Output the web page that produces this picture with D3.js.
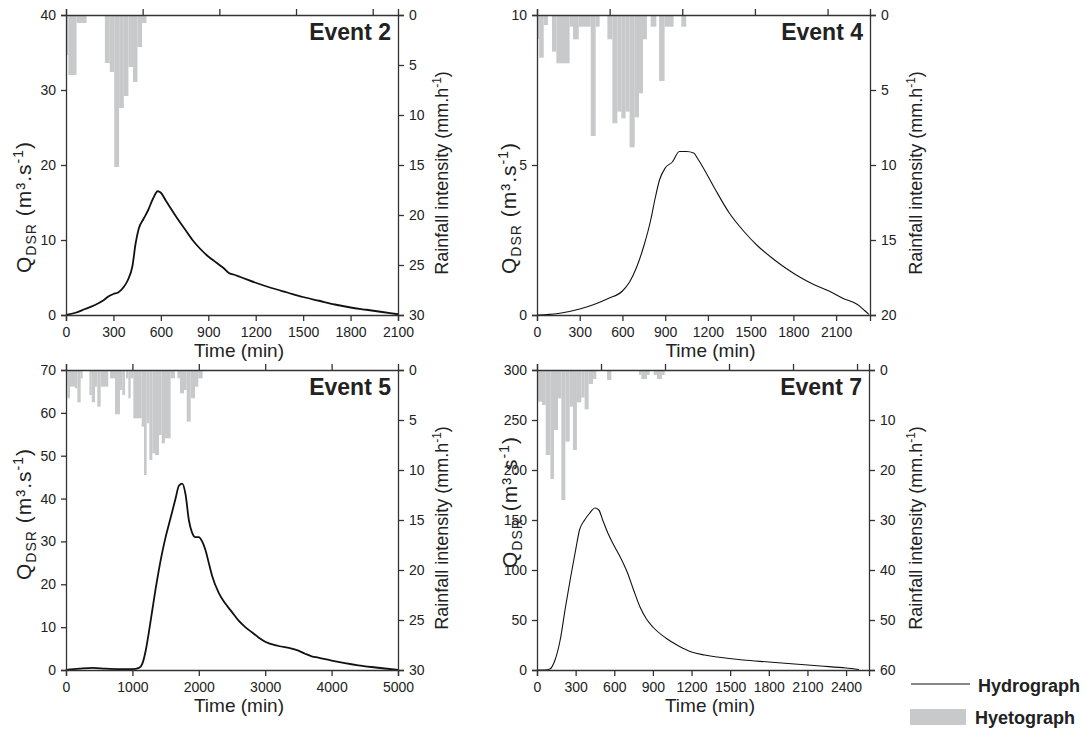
<!DOCTYPE html>
<html>
<head>
<meta charset="utf-8">
<script src="https://cdn.jsdelivr.net/npm/d3@7"></script>
<style>
  body { margin: 0; background: #fff; }
  text { font-family: "Liberation Sans", Arial, sans-serif; fill: #222; }
  .tick text { font-family: "Liberation Sans Narrow", "Arial Narrow", "Liberation Sans", sans-serif; font-size: 14px; fill: #222; }
  .axis path, .axis line { stroke: #333; stroke-width: 1.3px; }
</style>
</head>
<body>
<svg id="chart" width="1087" height="732"></svg>
<script>
// hydrographs: [time (min), Q (m3/s)]
const event2Flow = [[0,0],[60,0.3],[120,0.8],[180,1.3],[240,2.0],[270,2.5],[300,2.8],[330,3.0],[360,3.6],[390,4.6],[420,6.5],[440,9.5],[460,11.5],[490,12.8],[520,14],[550,15.5],[580,16.5],[600,16.3],[630,15.3],[660,14.3],[700,13],[750,11.5],[800,10],[850,8.8],[900,7.8],[950,7],[1000,6.2],[1030,5.6],[1060,5.4],[1100,5.1],[1200,4.3],[1300,3.6],[1400,3.0],[1500,2.4],[1600,1.9],[1700,1.4],[1800,1.0],[1900,0.7],[2000,0.4],[2100,0.1]];
const event4Flow = [[0,0],[150,0.05],[300,0.2],[400,0.35],[500,0.55],[600,0.8],[650,1.1],[700,1.6],[750,2.3],[800,3.2],[830,3.9],[860,4.5],[900,4.9],[950,5.1],[1000,5.45],[1050,5.45],[1100,5.4],[1130,5.2],[1180,4.8],[1250,4.2],[1350,3.4],[1450,2.8],[1550,2.3],[1650,1.9],[1750,1.55],[1850,1.25],[1950,1.0],[2050,0.8],[2150,0.55],[2250,0.35],[2300,0.15],[2330,0.02]];
const event5Flow = [[0,0],[200,0.3],[400,0.5],[600,0.3],[800,0.2],[1000,0.2],[1100,0.5],[1150,1.5],[1200,4.5],[1250,9],[1300,14],[1350,19],[1400,23.5],[1450,27.5],[1500,31],[1550,34],[1600,37],[1650,40],[1700,43],[1750,43.5],[1800,41],[1850,35],[1900,32],[1950,31],[2000,31],[2050,30],[2100,28],[2150,25],[2200,22],[2300,18],[2400,15.5],[2500,13.5],[2600,11.5],[2700,10],[2800,8.8],[2900,7.6],[3000,6.6],[3200,5.6],[3400,5],[3500,4.5],[3600,3.8],[3700,3.2],[3800,2.9],[4000,2.2],[4200,1.6],[4400,1.1],[4600,0.7],[4800,0.35],[5000,0.05]];
const event7Flow = [[0,0],[60,0],[100,1],[140,10],[180,30],[220,62],[260,92],[300,120],[330,140],[370,150],[410,157],[450,162],[480,160],[510,150],[550,137],[600,124],[650,112],[700,98],[750,80],[800,63],[850,51],[900,43],[1000,32],[1100,24],[1200,18],[1300,15],[1400,13],[1600,10],[1800,8],[2000,6],[2200,4],[2400,2],[2500,0.5]];

// hyetographs: [start (min), end (min), intensity (mm/h)]
const event2Rain = [[0,15,4.0],[15,67,6.0],[67,130,0.8],[246,277,4.8],[277,305,5.7],[305,336,15.2],[336,366,9.3],[366,395,8.1],[395,424,5.2],[424,452,6.7],[452,481,3.2],[481,509,0.8]];
const event4Rain = [[0,15,1.6],[15,47,2.85],[47,77,0.67],[105,136,2.44],[136,229,3.22],[229,253,0.78],[253,293,1.62],[293,377,0.78],[377,412,8.07],[412,440,0.78],[494,529,1.62],[529,564,7.22],[564,592,6.44],[592,622,6.89],[622,650,6.44],[650,686,8.82],[686,716,6.82],[716,744,5.22],[744,772,1.62],[798,838,0.78],[857,896,4.4],[896,959,0.78],[1013,1048,0.78]];
const event5Rain = [[0,20,1.5],[20,60,2.83],[60,136,1.67],[136,171,1.83],[171,221,3.23],[221,251,0.83],[352,387,2.5],[387,437,3.23],[437,472,1.67],[472,522,3.67],[522,637,1.67],[663,738,0.83],[738,813,4.43],[813,848,2.0],[848,889,2.5],[904,939,0.83],[939,974,2.83],[974,1014,0.83],[1014,1140,4.83],[1140,1175,5.67],[1175,1215,10.5],[1215,1255,5.33],[1255,1300,9.0],[1300,1340,8.33],[1340,1400,8.5],[1400,1441,6.5],[1441,1491,7.33],[1491,1576,6.83],[1576,1642,0.83],[1677,1717,0.83],[1717,1777,2.33],[1777,1818,2.0],[1818,1878,5.17],[1878,1943,2.83],[1943,1993,1.67],[1993,2058,0.83]];
const event7Rain = [[0,8,9.33],[8,39,6.33],[39,68,7.0],[68,104,17.0],[104,132,21.8],[132,163,12.0],[163,189,5.67],[189,220,26.0],[220,254,14.33],[254,279,7.33],[279,310,16.0],[310,344,6.47],[344,370,5.5],[370,401,7.87],[401,435,2.8],[435,461,1.8],[544,577,2.0],[792,810,1.0],[810,854,1.8],[854,875,1.0],[906,932,1.0],[932,970,1.8],[970,991,1.0]];

// axis ticks
const timeTicks2 = [0,300,600,900,1200,1500,1800,2100];
const timeTicks4 = [0,300,600,900,1200,1500,1800,2100];
const timeTicks5 = [0,1000,2000,3000,4000,5000];
const timeTicks7 = [0,300,600,900,1200,1500,1800,2100,2400];
const qTicks2 = [0,10,20,30,40];
const qTicks4 = [0,5,10];
const qTicks5 = [0,10,20,30,40,50,60,70];
const qTicks7 = [0,50,100,150,200,250,300];
const rainTicks2 = [0,5,10,15,20,25,30];
const rainTicks4 = [0,5,10,15,20];
const rainTicks5 = [0,5,10,15,20,25,30];
const rainTicks7 = [0,10,20,30,40,50,60];

const panels = [
  { title: "Event 2", flow: event2Flow, rain: event2Rain, xMax: 2100, xTicks: timeTicks2, qTicks: qTicks2, rTicks: rainTicks2, topStep: 485,
    left: 66, top: 15, width: 332, lw: 1.8, qLabelY: 207, qLabelX: 31, rLabelX: 448 },
  { title: "Event 4", flow: event4Flow, rain: event4Rain, xMax: 2338, xTicks: timeTicks4, qTicks: qTicks4, rTicks: rainTicks4, topStep: 510,
    left: 537, top: 15, width: 333, lw: 1.1, qLabelY: 208, qLabelX: 516, rLabelX: 922 },
  { title: "Event 5", flow: event5Flow, rain: event5Rain, xMax: 5000, xTicks: timeTicks5, qTicks: qTicks5, rTicks: rainTicks5, topStep: 1000,
    left: 66, top: 370, width: 332, lw: 1.8, qLabelY: 514, qLabelX: 31, rLabelX: 448 },
  { title: "Event 7", flow: event7Flow, rain: event7Rain, xMax: 2578, xTicks: timeTicks7, qTicks: qTicks7, rTicks: rainTicks7, topStep: 497,
    left: 537, top: 370, width: 332, lw: 1.1, qLabelY: 502, qLabelX: 517, rLabelX: 922 }
];
const plotH = 300;

const svg = d3.select("#chart");

panels.forEach(p => {
  const g = svg.append("g");
  const x = d3.scaleLinear().domain([0, p.xMax]).range([p.left, p.left + p.width]);
  const q = d3.scaleLinear().domain([0, d3.max(p.qTicks)]).range([p.top + plotH, p.top]);
  const r = d3.scaleLinear().domain([0, d3.max(p.rTicks)]).range([p.top, p.top + plotH]);

  // hyetograph bars hang from the top
  g.selectAll("rect.rain")
    .data(p.rain)
    .enter()
    .append("rect")
    .attr("x", d => x(d[0]))
    .attr("width", d => x(d[1]) - x(d[0]))
    .attr("y", p.top)
    .attr("height", d => r(d[2]) - p.top)
    .attr("fill", "#c8c9ca");

  // hydrograph
  const line = d3.line()
    .x(d => x(d[0]))
    .y(d => q(d[1]))
    .curve(d3.curveMonotoneX);
  g.append("path")
    .datum(p.flow)
    .attr("d", line)
    .attr("fill", "none")
    .attr("stroke", "#111")
    .attr("stroke-width", p.lw);

  // axes
  g.append("g").attr("class", "axis")
    .attr("transform", `translate(0,${p.top + plotH})`)
    .call(d3.axisBottom(x).tickValues(p.xTicks).tickFormat(d3.format("d")).tickSizeOuter(0).tickSize(6).tickPadding(6));
  g.append("g").attr("class", "axis")
    .attr("transform", `translate(0,${p.top})`)
    .call(d3.axisTop(x).tickValues(d3.range(0, p.xMax, p.topStep)).tickSizeOuter(0).tickSize(6).tickFormat(""));
  g.append("g").attr("class", "axis")
    .attr("transform", `translate(${p.left},0)`)
    .call(d3.axisLeft(q).tickValues(p.qTicks).tickFormat(d3.format("d")).tickSizeOuter(0).tickSize(5).tickPadding(5));
  g.append("g").attr("class", "axis")
    .attr("transform", `translate(${p.left + p.width},0)`)
    .call(d3.axisRight(r).tickValues(p.rTicks).tickFormat(d3.format("d")).tickSizeOuter(0).tickSize(6).tickPadding(5));

  // event title
  g.append("text")
    .attr("x", p.left + p.width - 7)
    .attr("y", p.top + 25)
    .attr("text-anchor", "end")
    .style("font-size", "23px")
    .style("font-weight", "bold")
    .text(p.title);

  // time label
  g.append("text")
    .attr("x", p.left + p.width / 2 + 7)
    .attr("y", p.top + plotH + 42)
    .attr("text-anchor", "middle")
    .style("font-size", "19px")
    .text("Time (min)");

  // left label Q_DSR (m3.s-1)
  const ql = g.append("text")
    .attr("transform", `translate(${p.qLabelX},${p.qLabelY}) rotate(-90)`)
    .attr("text-anchor", "middle")
    .style("font-size", "21px")
    .style("letter-spacing", "1px");
  ql.append("tspan").text("Q");
  ql.append("tspan").attr("dy", 5).style("font-size", "14px").text("DSR");
  ql.append("tspan").attr("dy", -5).text(" (m³.s");
  ql.append("tspan").attr("dy", -8).style("font-size", "14px").text("-1");
  ql.append("tspan").attr("dy", 8).text(")");

  // right label
  const rl = g.append("text")
    .attr("transform", `translate(${p.rLabelX},${p.top + plotH / 2 + 8}) rotate(-90)`)
    .attr("text-anchor", "middle")
    .style("font-size", "18px");
  rl.append("tspan").text("Rainfall intensity (mm.h");
  rl.append("tspan").attr("dy", -7).style("font-size", "12px").text("-1");
  rl.append("tspan").attr("dy", 7).text(")");
});

// legend
const leg = svg.append("g");
leg.append("line")
  .attr("x1", 911).attr("x2", 970).attr("y1", 684).attr("y2", 684)
  .attr("stroke", "#111").attr("stroke-width", 1.2);
leg.append("text").attr("x", 978).attr("y", 692)
  .style("font-size", "18px").style("font-weight", "bold").text("Hydrograph");
leg.append("rect").attr("x", 910).attr("y", 709).attr("width", 56).attr("height", 16)
  .attr("fill", "#c8c9ca");
leg.append("text").attr("x", 975).attr("y", 724)
  .style("font-size", "18px").style("font-weight", "bold").text("Hyetograph");
</script>
</body>
</html>
